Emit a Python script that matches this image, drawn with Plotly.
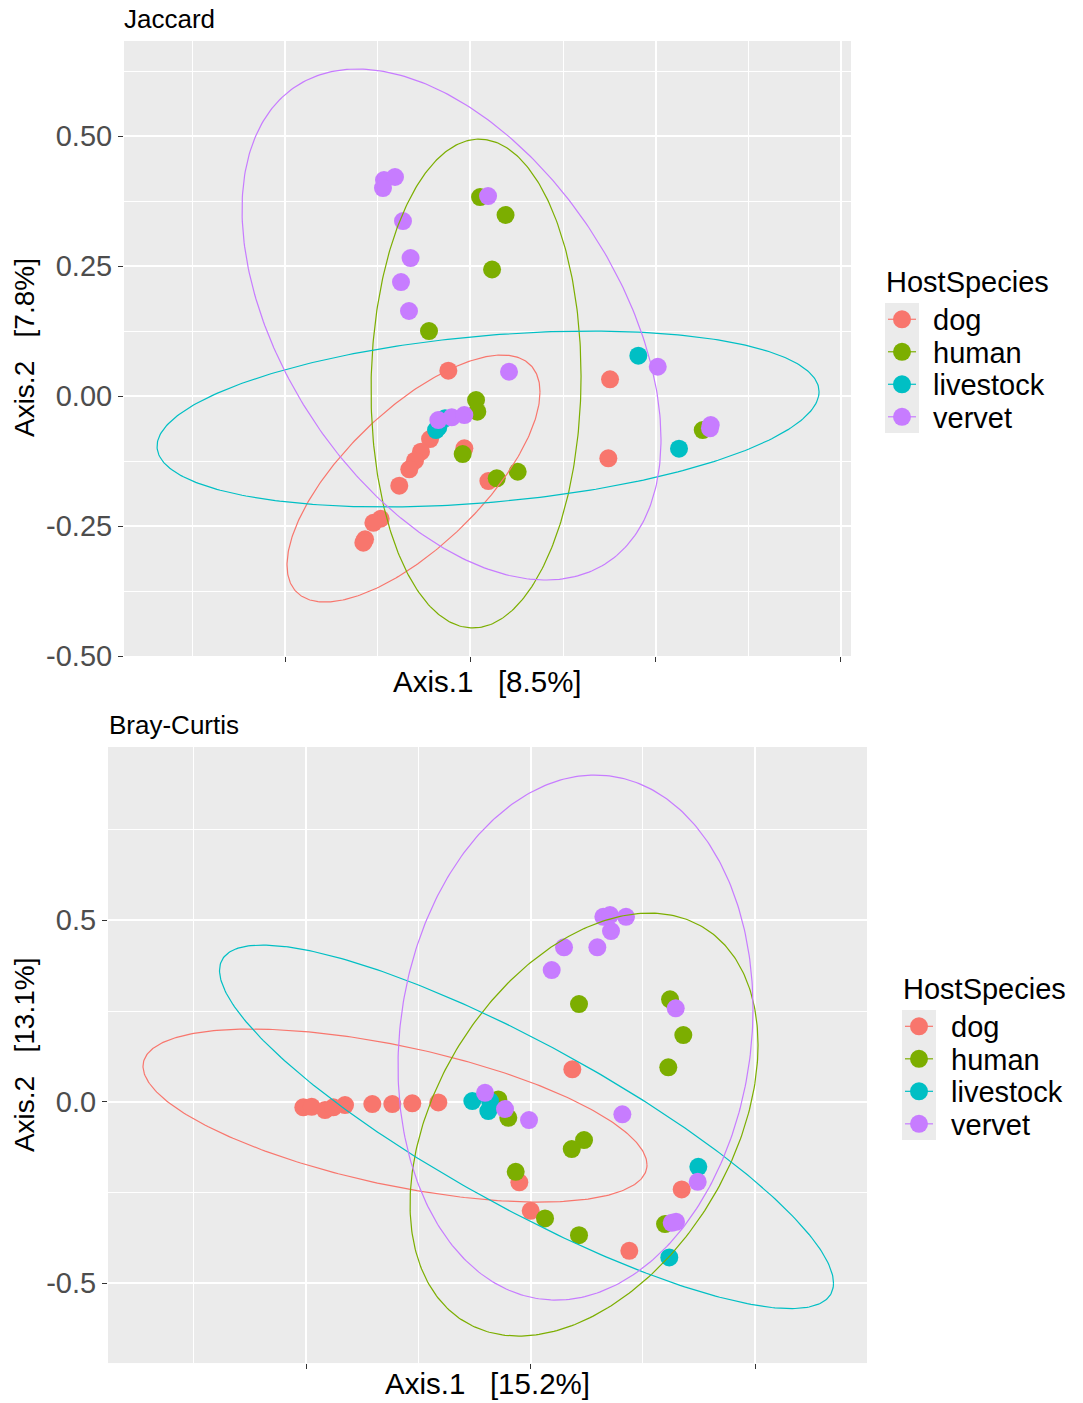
import numpy as np
import plotly.graph_objects as go

# ---------------------------------------------------------------- data
species = ["dog", "human", "livestock", "vervet"]
palette = ["#F8766D", "#7CAE00", "#00BFC4", "#C77CFF"]

# Jaccard PCoA sample coordinates (Axis.1, Axis.2)
jac_dog_x = [-0.0298, -0.0082, -0.0545, -0.0667, -0.0748, -0.0825, -0.0960, 0.0242,
             -0.1211, -0.1310, -0.1422, -0.1445, 0.1884, 0.1861]
jac_dog_y = [0.0487, -0.1006, -0.0827, -0.1071, -0.1244, -0.1410, -0.1725, -0.1635,
             -0.2360, -0.2437, -0.2756, -0.2821, 0.0321, -0.1198]
jac_human_x = [0.0130, 0.0474, 0.0292, -0.0559, 0.0076, 0.0093, -0.0104, 0.0355, 0.0638, 0.3135]
jac_human_y = [0.3827, 0.3481, 0.2433, 0.1250, -0.0077, -0.0302, -0.1115, -0.1583, -0.1456, -0.0654]
jac_livestock_x = [-0.0343, -0.0433, -0.0464, 0.2266, 0.2815]
jac_livestock_y = [-0.0429, -0.0602, -0.0654, 0.0775, -0.1013]
jac_vervet_x = [-0.1166, -0.1018, -0.1180, 0.0238, -0.0910, -0.0808, -0.0937, -0.0829,
                0.0521, -0.0433, -0.0252, -0.0082, 0.2528, 0.3243, 0.3233]
jac_vervet_y = [0.4154, 0.4212, 0.4000, 0.3846, 0.3365, 0.2654, 0.2192, 0.1635,
                0.0467, -0.0462, -0.0410, -0.0365, 0.0563, -0.0558, -0.0621]

# Bray-Curtis PCoA sample coordinates (Axis.1, Axis.2)
bc_dog_x = [-0.5060, -0.4873, -0.4577, -0.4392, -0.4131, -0.3523, -0.3078, -0.2633,
            -0.2053, 0.0931, -0.0249, 0.0004, 0.3367, 0.2200]
bc_dog_y = [-0.0154, -0.0138, -0.0229, -0.0154, -0.0091, -0.0063, -0.0063, -0.0044,
            -0.0017, 0.0893, -0.2220, -0.3003, -0.2413, -0.4105]
bc_human_x = [-0.0717, -0.0494, -0.0330, 0.0323, 0.1080, 0.3107, 0.3403, 0.3069,
              0.1192, 0.0918, 0.1080, 0.2996]
bc_human_y = [0.0066, -0.0441, -0.1928, -0.3212, 0.2691, 0.2821, 0.1837, 0.0948,
              -0.1055, -0.1303, -0.3675, -0.3369]
bc_livestock_x = [-0.1296, -0.0902, -0.0940, 0.3737, 0.3091]
bc_livestock_y = [0.0019, 0.0019, -0.0256, -0.1791, -0.4287]
bc_vervet_x = [0.1621, 0.1771, 0.2127, 0.1793, 0.0746, 0.1488, 0.0472, 0.3234,
               0.2045, 0.3724, 0.3145, 0.3241, -0.1013, -0.0568, -0.0033]
bc_vervet_y = [0.5096, 0.5143, 0.5096, 0.4702, 0.4253, 0.4253, 0.3628, 0.2573,
               -0.0347, -0.2204, -0.3333, -0.3306, 0.0248, -0.0201, -0.0504]

# 95% group ellipses: centre, half-width (Axis.1), half-height (Axis.2) and
# tilt = relative Axis.2 offset of the ellipse's right-most point (order: species)
jac_ell_cx = [-0.0768, 0.0076, 0.0238, -0.0255]
jac_ell_cy = [-0.1587, 0.0240, -0.0442, 0.1375]
jac_ell_w = [0.1707, 0.1417, 0.4467, 0.2827]
jac_ell_h = [0.2375, 0.4700, 0.1692, 0.4913]
jac_ell_tilt = [0.70, 0.03, 0.31, -0.45]

bc_ell_cx = [-0.3018, 0.1192, -0.0089, 0.1002]
bc_ell_cy = [-0.0380, -0.0628, -0.0690, 0.1769]
bc_ell_w = [0.5612, 0.3875, 0.6837, 0.3953]
bc_ell_h = [0.2383, 0.5826, 0.5007, 0.7231]
bc_ell_tilt = [-0.57, 0.376, -0.86, 0.11]

# axis ticks
jac_xticks = [-0.25, 0.0, 0.25, 0.5]
jac_yticks = [-0.5, -0.25, 0.0, 0.25, 0.5]
jac_ylabels = ["-0.50", "-0.25", "0.00", "0.25", "0.50"]
bc_xticks = [-0.5, 0.0, 0.5]
bc_yticks = [-0.5, 0.0, 0.5]
bc_ylabels = ["-0.5", "0.0", "0.5"]

jac_xtitle = "Axis.1   [8.5%]"
jac_ytitle = "Axis.2   [7.8%]"
bc_xtitle = "Axis.1   [15.2%]"
bc_ytitle = "Axis.2   [13.1%]"

# ---------------------------------------------------------------- layout helpers
W, H = 1083, 1403
ROW_SCALE = 1.0116          # vertical spacing factor of the layout grid
FONT = "Liberation Sans, Arial, sans-serif"
TEXT_SIZE = 29


def px(x):
    return x / W


def py(y):
    return 1 - y * ROW_SCALE / H


def ellipse(cx, cy, w, h, tilt, n=361):
    t = np.linspace(0, 2 * np.pi, n)
    phi = np.arccos(tilt)
    return cx + w * np.cos(t), cy + h * np.cos(t - phi)


fig = go.Figure()

panels = [
    dict(xa="x", ya="y",
         pts=[(jac_dog_x, jac_dog_y), (jac_human_x, jac_human_y),
              (jac_livestock_x, jac_livestock_y), (jac_vervet_x, jac_vervet_y)],
         ell=(jac_ell_cx, jac_ell_cy, jac_ell_w, jac_ell_h, jac_ell_tilt)),
    dict(xa="x2", ya="y2",
         pts=[(bc_dog_x, bc_dog_y), (bc_human_x, bc_human_y),
              (bc_livestock_x, bc_livestock_y), (bc_vervet_x, bc_vervet_y)],
         ell=(bc_ell_cx, bc_ell_cy, bc_ell_w, bc_ell_h, bc_ell_tilt)),
]

for p in panels:
    for name, col, (xs, ys) in zip(species, palette, p["pts"]):
        fig.add_trace(go.Scatter(x=xs, y=ys, mode="markers", name=name,
                                 xaxis=p["xa"], yaxis=p["ya"], showlegend=False,
                                 marker=dict(color=col, size=18, line=dict(width=0))))
    for i, (name, col) in enumerate(zip(species, palette)):
        ex, ey = ellipse(*(arr[i] for arr in p["ell"]))
        fig.add_trace(go.Scatter(x=ex, y=ey, mode="lines", name=name,
                                 xaxis=p["xa"], yaxis=p["ya"], showlegend=False,
                                 hoverinfo="skip",
                                 line=dict(color=col, width=1.2)))

common_axis = dict(showgrid=True, gridcolor="white", gridwidth=2, zeroline=False,
                   showline=False, ticks="outside", ticklen=5, tickwidth=1,
                   tickcolor="#333333",
                   tickfont=dict(family=FONT, size=TEXT_SIZE, color="#4D4D4D"))

fig.update_layout(
    width=W, height=H,
    margin=dict(l=0, r=0, t=0, b=0),
    paper_bgcolor="white", plot_bgcolor="#EBEBEB",
    showlegend=False,
    font=dict(family=FONT, color="black"),
    xaxis=dict(domain=[px(124), px(851)], range=[-0.4675, 0.5136], anchor="y",
               tickmode="array", tickvals=jac_xticks, showticklabels=False,
               minor=dict(tickmode="array", tickvals=[-0.375, -0.125, 0.125, 0.375],
                          showgrid=True, gridcolor="white", gridwidth=1),
               **common_axis),
    yaxis=dict(domain=[py(656), py(41)], range=[-0.5, 0.6827], anchor="x",
               tickmode="array", tickvals=jac_yticks, ticktext=jac_ylabels,
               minor=dict(tickmode="array", tickvals=[-0.375, -0.125, 0.125, 0.375, 0.625],
                          showgrid=True, gridcolor="white", gridwidth=1),
               **common_axis),
    xaxis2=dict(domain=[px(108), px(867)], range=[-0.941, 0.7494], anchor="y2",
                tickmode="array", tickvals=bc_xticks, showticklabels=False,
                minor=dict(tickmode="array", tickvals=[-0.75, -0.25, 0.25],
                           showgrid=True, gridcolor="white", gridwidth=1),
                **common_axis),
    yaxis2=dict(domain=[py(1363), py(747)], range=[-0.7198, 0.9771], anchor="x2",
                tickmode="array", tickvals=bc_yticks, ticktext=bc_ylabels,
                minor=dict(tickmode="array", tickvals=[-0.25, 0.25, 0.75],
                           showgrid=True, gridcolor="white", gridwidth=1),
                **common_axis),
)

annotations = []
shapes = []


def text(x, y, s, size=TEXT_SIZE, xanchor="center", yanchor="middle", angle=0):
    annotations.append(dict(x=px(x), y=py(y), xref="paper", yref="paper", text=s,
                            showarrow=False, xanchor=xanchor, yanchor=yanchor,
                            textangle=angle,
                            font=dict(family=FONT, size=size, color="black")))


# panel titles and axis titles
text(122, 19, "Jaccard", size=26, xanchor="left")
text(107, 725, "Bray-Curtis", size=26, xanchor="left")
text(487.5, 681, jac_xtitle, size=29.5)
text(24, 348, jac_ytitle, size=28, angle=-90)
text(487.5, 1383, bc_xtitle, size=29.5)
text(24, 1055, bc_ytitle, size=28, angle=-90)


# legends (one per panel)
def legend(left, title_y, key_top, label_x):
    key_w, key_h = 34, 32.5
    text(left - 1, title_y, "HostSpecies", xanchor="left")
    shapes.append(dict(type="rect", xref="paper", yref="paper",
                       x0=px(left), x1=px(left + key_w),
                       y0=py(key_top + 4 * key_h), y1=py(key_top),
                       fillcolor="#EBEBEB", line=dict(width=0), layer="below"))
    for i, (name, col) in enumerate(zip(species, palette)):
        cy = key_top + key_h * (i + 0.5)
        cx = left + key_w / 2
        shapes.append(dict(type="line", xref="paper", yref="paper",
                           x0=px(left + 3), x1=px(left + key_w - 3),
                           y0=py(cy), y1=py(cy), line=dict(color=col, width=1.2)))
        shapes.append(dict(type="circle", xref="paper", yref="paper",
                           x0=px(cx - 9), x1=px(cx + 9), y0=py(cy + 9), y1=py(cy - 9),
                           fillcolor=col, line=dict(width=0)))
        text(label_x, cy + 1, name, xanchor="left")


legend(885, 282, 303, 931)
legend(902, 989, 1010, 949)

fig.update_layout(annotations=annotations, shapes=shapes)

fig.write_html("out.html")
